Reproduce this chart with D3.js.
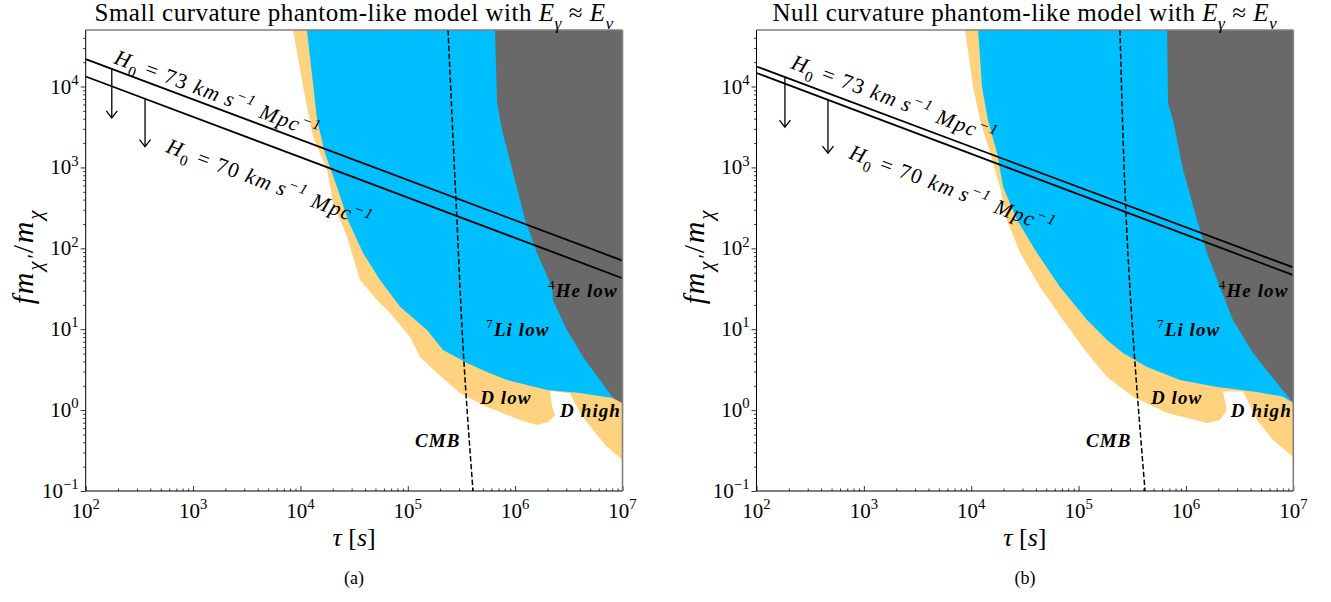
<!DOCTYPE html>
<html><head><meta charset="utf-8">
<script src="https://cdn.jsdelivr.net/npm/d3@7"></script>
<style>body{margin:0;background:#fff} text{font-family:"Liberation Serif","DejaVu Serif",serif;fill:#000}</style>
</head><body>
<svg id="fig" width="1331" height="602"></svg>
<script>
// ticks
var tauTicks = [1e2, 1e3, 1e4, 1e5, 1e6, 1e7];
var tauTickExp = ["2", "3", "4", "5", "6", "7"];
var fTicks = [1e-1, 1, 1e1, 1e2, 1e3, 1e4];
var fTickExp = ["\u22121", "0", "1", "2", "3", "4"];

// panel (a): small curvature
var dBandA = [[8.53e3,5e4],[1.06e4,9.9e3],[1.31e4,2.39e3],[1.77e4,933],[2.02e4,365],[2.72e4,138],[3.59e4,40.6],
  [5.16e4,23.0],[6.83e4,15.9],[1.05e5,8.03],[1.30e5,4.54],[1.87e5,2.88],[3.06e5,1.63],[5.47e5,1.09],[1.11e6,0.755],
  [1.60e6,0.655],[2.03e6,0.713],[2.36e6,0.871],[2.21e6,1.09],[2.12e6,1.72],[3.24e6,1.62],[4.02e6,0.922],
  [5.31e6,0.567],[7.19e6,0.350],[1e7,0.241]];
var liBandA = [[1.15e4,5e4],[1.43e4,3.87e3],[1.69e4,1.51e3],[2.19e4,575],[2.77e4,224],[3.83e4,87.7],[5.51e4,40.6],
  [8.47e4,18.9],[1.51e5,9.8],[2.13e5,5.55],[3.57e5,3.83],[5.47e5,2.96],[8.4e5,2.36],[1.98e6,1.77],[4.02e6,1.63],
  [8.15e6,1.41],[1e7,1.22]];
var heBandA = [[6.49e5,5e4],[6.78e5,6.28e3],[7.55e5,2.92e3],[1.24e6,224],[1.60e6,87.7],[2.20e6,33.3],[2.25e6,23.0],
  [3.04e6,9.8],[4.29e6,4.54],[6.17e6,2.36],[8.15e6,1.41],[1e7,1.22]];
var cmbA = [[2.37e5,5e4],[2.81e5,397],[3.34e5,3.83],[4.05e5,0.1]];
var h73A = [[1e2,2.18e4],[1e7,70.5]];
var h70A = [[1e2,1.33e4],[1e7,42.7]];
var arrowsA = [[175,1.67e4,4.1e3],[357,7.1e3,1.81e3]];

// panel (b): null curvature
var dBandB = [[8.75e3,5e4],[1.04e4,9.9e3],[1.21e4,3.87e3],[1.50e4,1.51e3],[1.85e4,575],[2.15e4,224],[2.85e4,87.7],
  [4.38e4,33.3],[7.16e4,13.0],[1.20e5,5.09],[1.84e5,2.57],[3.21e5,1.46],[6.67e5,0.922],[1.57e6,0.693],[2.07e6,0.755],
  [2.41e6,1.0],[2.21e6,1.70],[3.40e6,1.70],[4.59e6,0.755],[6.47e6,0.428],[1e7,0.263]];
var liBandB = [[1.16e4,5e4],[1.26e4,9.9e3],[1.43e4,3.87e3],[1.74e4,1.51e3],[1.98e4,575],[2.67e4,224],[4.10e4,87.7],
  [6.71e4,33.3],[1.20e5,13.0],[1.84e5,7.36],[2.59e5,5.09],[4.34e5,3.42],[8.81e5,2.36],[1.95e6,1.93],[4.59e6,1.68],
  [8.02e6,1.46],[1e7,1.22]];
var heBandB = [[6.67e5,5e4],[6.81e5,6.28e3],[7.57e5,3.87e3],[9.4e5,933],[1.27e6,224],[1.57e6,87.7],[2.07e6,33.3],
  [2.74e6,13.0],[4.22e6,5.09],[7.52e6,1.93],[1e7,1.22]];
var cmbB = [[2.43e5,5e4],[2.88e5,87.7],[4.16e5,0.1]];
var h73B = [[1e2,1.77e4],[1e7,58]];
var h70B = [[1e2,1.47e4],[1e7,46.6]];
var arrowsB = [[184,1.32e4,3.15e3],[463,6.9e3,1.5e3]];

var svg = d3.select("#fig");
var top_ = 30, bottom = 491;

// write a text made of pieces (italic / sub / sup)
function rich(sel, parts, size) {
  var cur = 0;
  parts.forEach(function(p) {
    var shift = 0, fs = size;
    if (p.sub) { shift = size * 0.3; fs = size * 0.7; }
    if (p.sup) { shift = -size * 0.42; fs = size * 0.7; }
    var ts = sel.append("tspan").text(p.t).attr("font-size", fs);
    if (shift - cur != 0) ts.attr("dy", shift - cur);
    cur = shift;
    if (p.i) ts.attr("font-style", "italic");
    if (p.b) ts.attr("font-weight", "bold");
  });
}

function h0Parts(v) {
  return [{t:"H", i:1}, {t:"0", sub:1}, {t:" = " + v + " "}, {t:"km", i:1}, {t:"\u2009"}, {t:"s", i:1},
    {t:"\u22121", sup:1, i:1}, {t:" "}, {t:"Mpc", i:1}, {t:"\u22121", sup:1, i:1}];
}

function drawPanel(cfg) {
  var x = d3.scaleLog().domain([1e2, 1e7]).range([cfg.x0, cfg.x1]);
  var y = d3.scaleLog().domain([1e-1, 5e4]).range([bottom, top_]);
  var g = svg.append("g");

  g.append("clipPath").attr("id", "clip" + cfg.id).append("rect")
    .attr("x", cfg.x0).attr("y", top_).attr("width", cfg.x1 - cfg.x0).attr("height", bottom - top_);
  var plot = g.append("g").attr("clip-path", "url(#clip" + cfg.id + ")");

  var area = d3.line().x(function(d) { return x(d[0]); }).y(function(d) { return y(d[1]); });
  function closed(pts) { return area(pts.concat([[1e7, 5e4]])) + "Z"; }

  plot.append("path").attr("d", closed(cfg.dBand)).attr("fill", "#ffd280");
  plot.append("path").attr("d", closed(cfg.liBand)).attr("fill", "#00bfff");
  plot.append("path").attr("d", closed(cfg.heBand)).attr("fill", "#696969");

  plot.append("path").attr("d", d3.line().curve(d3.curveMonotoneY)
      .x(function(d) { return x(d[0]); }).y(function(d) { return y(d[1]); })(cfg.cmb))
    .attr("fill", "none").attr("stroke", "#000").attr("stroke-width", 1.5).attr("stroke-dasharray", "5.5,2.4");

  [cfg.h73, cfg.h70].forEach(function(l) {
    plot.append("path").attr("d", area(l)).attr("fill", "none").attr("stroke", "#000").attr("stroke-width", 1.8);
  });

  cfg.arrows.forEach(function(a) {
    var ax = x(a[0]), y1 = y(a[1]), y2 = y(a[2]);
    plot.append("line").attr("x1", ax).attr("x2", ax).attr("y1", y1).attr("y2", y2)
      .attr("stroke", "#000").attr("stroke-width", 1.3);
    plot.append("path").attr("d", "M" + (ax - 5.5) + "," + (y2 - 7) + "L" + ax + "," + y2 + "L" + (ax + 5.5) + "," + (y2 - 7))
      .attr("fill", "none").attr("stroke", "#000").attr("stroke-width", 1.3);
  });

  // H0 labels along the lines
  var ang = Math.atan2(y(cfg.h73[1][1]) - y(cfg.h73[0][1]), x(cfg.h73[1][0]) - x(cfg.h73[0][0])) * 180 / Math.PI;
  [[cfg.lab73, "73"], [cfg.lab70, "70"]].forEach(function(l) {
    var t = g.append("text").attr("transform", "translate(" + x(l[0][0]) + "," + y(l[0][1]) + ") rotate(" + ang + ")")
      .attr("letter-spacing", 1.4);
    rich(t, h0Parts(l[1]), 21.5);
  });

  // region labels
  var labs = [
    [[2.02e6, 25], [{t:"4", sup:1}, {t:"He low", i:1, b:1}]],
    [[5.37e5, 8.26], [{t:"7", sup:1}, {t:"Li low", i:1, b:1}]],
    [[4.72e5, 1.19], [{t:"D low", i:1, b:1}]],
    [[2.62e6, 0.822], [{t:"D high", i:1, b:1}]],
    [[1.17e5, 0.35], [{t:"CMB", i:1, b:1}]]
  ];
  labs.forEach(function(l) {
    var t = g.append("text").attr("x", x(l[0][0])).attr("y", y(l[0][1])).attr("letter-spacing", 1.1);
    rich(t, l[1], 19);
  });

  // axes
  var minorX = [], minorY = [];
  for (var e = 2; e < 7; e++) for (var m = 2; m < 10; m++) minorX.push(m * Math.pow(10, e));
  for (var e2 = -1; e2 < 5; e2++) for (var m2 = 2; m2 < 10; m2++) if (m2 * Math.pow(10, e2) < 5e4) minorY.push(m2 * Math.pow(10, e2));

  var gx = g.append("g").attr("transform", "translate(0," + bottom + ")");
  gx.call(d3.axisBottom(x).tickValues(tauTicks).tickSize(-5).tickFormat(""));
  gx.append("g").call(d3.axisBottom(x).tickValues(minorX).tickSize(-2.5).tickFormat(""));
  var gy = g.append("g").attr("transform", "translate(" + cfg.x0 + ",0)");
  gy.call(d3.axisLeft(y).tickValues(fTicks).tickSize(5).tickFormat(""));
  gy.append("g").call(d3.axisLeft(y).tickValues(minorY).tickSize(2.5).tickFormat(""));
  g.selectAll(".domain").remove();
  g.selectAll(".tick line").attr("stroke", "#000").attr("stroke-width", 0.8);

  tauTicks.forEach(function(v, i) {
    var t = g.append("text").attr("x", x(v)).attr("y", bottom + 27).attr("text-anchor", "middle");
    rich(t, [{t:"10"}, {t:tauTickExp[i], sup:1}], 21);
  });
  fTicks.forEach(function(v, i) {
    var t = g.append("text").attr("x", cfg.x0 - 7).attr("y", y(v) + 7).attr("text-anchor", "end");
    rich(t, [{t:"10"}, {t:fTickExp[i], sup:1}], 21);
  });

  // frame
  g.append("line").attr("x1", cfg.x0).attr("x2", cfg.x1).attr("y1", top_).attr("y2", top_).attr("stroke", "#808080").attr("stroke-width", 1.6);
  g.append("line").attr("x1", cfg.x1).attr("x2", cfg.x1).attr("y1", top_).attr("y2", bottom).attr("stroke", "#808080").attr("stroke-width", 1.6);
  g.append("line").attr("x1", cfg.x0).attr("x2", cfg.x1).attr("y1", bottom).attr("y2", bottom).attr("stroke", "#000").attr("stroke-width", 1);
  g.append("line").attr("x1", cfg.x0).attr("x2", cfg.x0).attr("y1", top_).attr("y2", bottom).attr("stroke", "#000").attr("stroke-width", 1);

  var cx = (cfg.x0 + cfg.x1) / 2;
  var tt = g.append("text").attr("x", cx).attr("y", 21).attr("text-anchor", "middle").attr("letter-spacing", 0.5);
  rich(tt, [{t:cfg.title + " with "}, {t:"E", i:1}, {t:"\u03b3", sub:1, i:1}, {t:" \u2248 "}, {t:"E", i:1}, {t:"\u03bd", sub:1, i:1}], 25);

  var xl = g.append("text").attr("x", cx).attr("y", 546).attr("text-anchor", "middle");
  rich(xl, [{t:"\u03c4", i:1}, {t:" [", }, {t:"s", i:1}, {t:"]"}], 26);

  var yl = g.append("text").attr("transform", "translate(" + (cfg.x0 - 53) + "," + ((top_ + bottom) / 2 - 4) + ") rotate(-90)")
    .attr("text-anchor", "middle").attr("letter-spacing", 1.8);
  rich(yl, [{t:"fm", i:1}, {t:"\u03c7\u2032", sub:1, i:1}, {t:"/"}, {t:"m", i:1}, {t:"\u03c7", sub:1, i:1}], 30);

  g.append("text").attr("x", cx).attr("y", 584).attr("text-anchor", "middle").attr("font-size", 18).text(cfg.caption);
}

drawPanel({id:"a", x0:85.7, x1:622.5, title:"Small curvature phantom-like model", caption:"(a)",
  dBand:dBandA, liBand:liBandA, heBand:heBandA, cmb:cmbA, h73:h73A, h70:h70A, arrows:arrowsA,
  lab73:[180, 1.96e4], lab70:[548, 1.56e3]});
drawPanel({id:"b", x0:756.5, x1:1293.3, title:"Null curvature phantom-like model", caption:"(b)",
  dBand:dBandB, liBand:liBandB, heBand:heBandB, cmb:cmbB, h73:h73B, h70:h70B, arrows:arrowsB,
  lab73:[205, 1.70e4], lab70:[711, 1.31e3]});
</script>
</body></html>
